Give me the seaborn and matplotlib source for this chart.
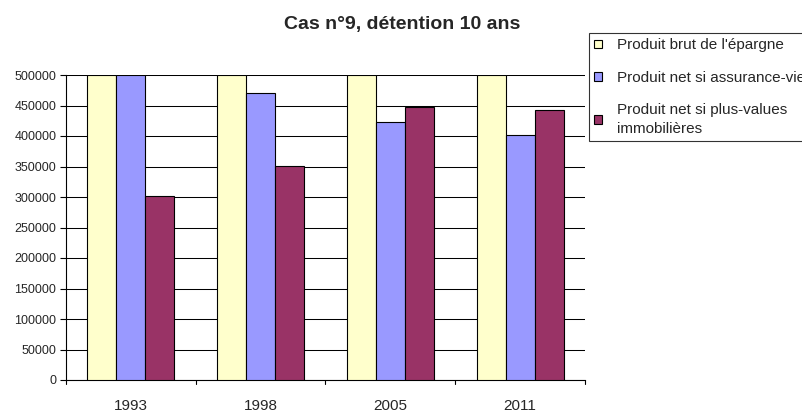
import matplotlib
matplotlib.use("Agg")
import matplotlib.pyplot as plt
import seaborn as sns
import pandas as pd
from matplotlib.patches import Patch

years = ["1993", "1998", "2005", "2011"]
series = ["Produit brut de l'épargne", "Produit net si assurance-vie",
          "Produit net si plus-values\nimmobilières"]
brut = [500000, 500000, 500000, 500000]
assurance = [500000, 470000, 423000, 402000]
immo = [302000, 351000, 447500, 443000]
colors = ["#FFFFCC", "#9999FF", "#993366"]

rows = []
for s, vals in zip(series, [brut, assurance, immo]):
    for y, v in zip(years, vals):
        rows.append({"Année": y, "Série": s, "Valeur": v})
df = pd.DataFrame(rows)

sns.set_style("white")
plt.rcParams['font.family'] = ['Liberation Sans', 'DejaVu Sans']

fig = plt.figure(figsize=(8.03, 4.12), dpi=100)
ax = fig.add_axes([66/803, 1-380/412, (585-66)/803, (380-75)/412])
sns.barplot(data=df, x="Année", y="Valeur", hue="Série", palette=colors,
            saturation=1, width=0.67, edgecolor="black", linewidth=0.8,
            ax=ax, zorder=3)
ax.get_legend().remove()

ax.set_ylim(0, 500000)
ax.set_xlim(-0.5, 3.5)
ax.set_yticks(range(0, 500001, 50000))
ax.set_yticklabels([str(v) for v in range(0, 500001, 50000)], fontsize=9)
ax.yaxis.grid(True, color="black", linewidth=0.75, zorder=0)
ax.set_axisbelow(True)
ax.set_xlabel("")
ax.set_ylabel("")
ax.set_xticks([0, 1, 2, 3])
ax.set_xticklabels(years, fontsize=11)
ax.tick_params(axis="x", length=0, pad=13.5)
for xb in [-0.5, 0.5, 1.5, 2.5, 3.5]:
    ax.plot([xb, xb], [0, -0.013], transform=ax.get_xaxis_transform(),
            color="black", linewidth=0.8, clip_on=False)
ax.tick_params(axis="y", length=4, width=0.8, color="black", direction="out", pad=3, left=True)
for sp in ["top", "right"]:
    ax.spines[sp].set_visible(False)
for sp in ["left", "bottom"]:
    ax.spines[sp].set_color("black")
    ax.spines[sp].set_linewidth(0.8)

fig.text(402/803, 1-25/412, "Cas n°9, détention 10 ans", ha="center", va="center",
         fontsize=14, fontweight="bold")

handles = [Patch(facecolor=c, edgecolor="black", linewidth=0.8) for c in colors]
leg = fig.legend(handles, series, loc="upper left", bbox_to_anchor=(589/803, 1-33/412),
                 fontsize=11, frameon=True, fancybox=False, handlelength=0.5,
                 handleheight=0.5, handletextpad=1.0, labelspacing=1.2,
                 borderpad=0.35, borderaxespad=0)
for t in leg.get_texts():
    t.set_linespacing(1.45)
leg.get_frame().set_edgecolor("black")
leg.get_frame().set_linewidth(0.8)

fig.savefig("out.png", dpi=100)
